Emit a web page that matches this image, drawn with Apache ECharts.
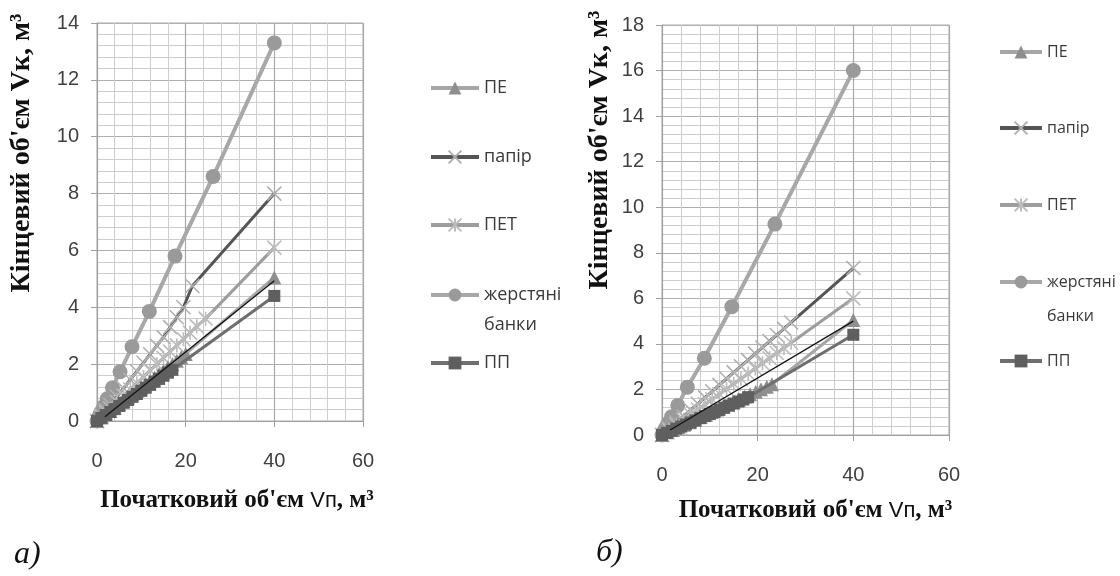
<!DOCTYPE html>
<html><head><meta charset="utf-8">
<script src="https://cdn.jsdelivr.net/npm/echarts@6/dist/echarts.min.js"></script>
<style>html,body{margin:0;padding:0;background:#fff}#c{width:1120px;height:576px}</style>
</head><body><div id="c"></div>
<script>
// ---- series names ----
const names = ['ПЕ', 'папір', 'ПЕТ', 'жерстяні банки', 'ПП'];
const xTicksA = [0, 20, 40, 60];
const yTicksA = [0, 2, 4, 6, 8, 10, 12, 14];
const xTicksB = [0, 20, 40, 60];
const yTicksB = [0, 2, 4, 6, 8, 10, 12, 14, 16, 18];

// ---- chart а) ----
const peAx = [0, 1, 2, 3, 4, 5, 6, 7, 8, 9, 10, 11, 12, 13, 14, 15, 16, 17, 18, 19, 20, 40];
const peAy = [0, 0.12, 0.24, 0.35, 0.47, 0.59, 0.71, 0.83, 0.94, 1.06, 1.18, 1.3, 1.42, 1.53, 1.65, 1.77, 1.89, 2.0, 2.12, 2.24, 2.36, 5.05];
const paperAx = [0, 1, 2, 3, 4.5, 6, 7.5, 9, 10.5, 12, 13.5, 15, 16.5, 18, 19.5, 21.5, 40];
const paperAy = [0, 0.19, 0.38, 0.57, 0.86, 1.15, 1.45, 1.75, 2.05, 2.35, 2.65, 2.95, 3.3, 3.65, 4.0, 4.75, 8.0];
const petAx = [0, 1, 2, 3, 4.5, 6, 7.5, 9, 10.5, 12, 13.5, 15, 16.5, 18, 19.5, 21, 22.5, 24.5, 40];
const petAy = [0, 0.15, 0.3, 0.44, 0.67, 0.89, 1.11, 1.33, 1.55, 1.78, 2.0, 2.22, 2.44, 2.66, 2.88, 3.1, 3.33, 3.6, 6.1];
const cansAx = [0, 0.45, 0.7, 1.05, 1.55, 2.3, 3.5, 5.2, 7.9, 11.8, 17.6, 26.2, 40];
const cansAy = [0, 0.15, 0.24, 0.35, 0.52, 0.78, 1.17, 1.73, 2.61, 3.85, 5.8, 8.6, 13.3];
const ppAx = [0, 1, 2, 3, 4, 5, 6, 7, 8, 9, 10, 11, 12, 13, 14, 15, 16, 17, 40];
const ppAy = [0, 0.11, 0.21, 0.32, 0.42, 0.53, 0.64, 0.74, 0.85, 0.95, 1.06, 1.17, 1.27, 1.38, 1.48, 1.59, 1.7, 1.8, 4.4];
const trendAx = [1.8, 40];
const trendAy = [0.15, 4.93];

// ---- chart б) ----
const peBx = [0, 1.2, 2.3, 3.5, 4.6, 5.8, 6.9, 8.1, 9.2, 10.4, 11.5, 12.7, 13.8, 15, 16.1, 17.3, 18.4, 19.6, 20.7, 21.9, 23, 40];
const peBy = [0, 0.12, 0.22, 0.34, 0.45, 0.56, 0.67, 0.79, 0.89, 1.01, 1.12, 1.23, 1.34, 1.46, 1.56, 1.68, 1.79, 1.9, 2.01, 2.12, 2.23, 5.05];
const paperBx = [0, 1.5, 3, 4.5, 6, 7.5, 9, 10.5, 12, 13.5, 15, 16.5, 18, 19.5, 21, 22.5, 24, 25.5, 27, 40];
const paperBy = [0, 0.27, 0.55, 0.82, 1.1, 1.37, 1.65, 1.92, 2.2, 2.47, 2.75, 3.02, 3.29, 3.57, 3.84, 4.12, 4.39, 4.67, 4.94, 7.33];
const petBx = [0, 1.5, 3, 4.5, 6, 7.5, 9, 10.5, 12, 13.5, 15, 16.5, 18, 19.5, 21, 22.5, 24, 25.5, 27, 40];
const petBy = [0, 0.22, 0.45, 0.67, 0.9, 1.12, 1.35, 1.57, 1.8, 2.02, 2.25, 2.47, 2.7, 2.92, 3.15, 3.37, 3.6, 3.82, 4.05, 6.0];
const cansBx = [0, 0.45, 0.75, 1.25, 2.0, 3.3, 5.3, 8.85, 14.6, 23.6, 40];
const cansBy = [0, 0.18, 0.3, 0.5, 0.8, 1.3, 2.1, 3.37, 5.63, 9.26, 16.0];
const ppBx = [0, 1, 2, 3, 4, 5, 6, 7, 8, 9, 10, 11, 12, 13, 14, 15, 16, 17, 18, 40];
const ppBy = [0, 0.09, 0.18, 0.28, 0.37, 0.46, 0.55, 0.64, 0.74, 0.83, 0.92, 1.01, 1.1, 1.2, 1.29, 1.38, 1.47, 1.56, 1.66, 4.4];
const trendBx = [1.7, 40];
const trendBy = [0.22, 5.0];

const zip = (xs, ys) => xs.map((x, i) => [x, ys[i]]);
const X_PATH = 'path://M0,0L10,10M10,0L0,10';
const STAR_PATH = 'path://M5,0L5,10M0,0L10,10M10,0L0,10';

const styles = {
  'ПЕ': {symbol: 'triangle', symbolSize: 14, line: '#a6a6a6', w: 3, fill: '#8e8e8e', border: '#8e8e8e', bw: 0, z: 4},
  'папір': {symbol: X_PATH, symbolSize: 14, line: '#555555', w: 3, fill: 'rgba(0,0,0,0)', border: '#b0b0b0', bw: 1.6, z: 2},
  'ПЕТ': {symbol: STAR_PATH, symbolSize: 14, line: '#9d9d9d', w: 3, fill: 'rgba(0,0,0,0)', border: '#bcbcbc', bw: 1.6, z: 3},
  'жерстяні банки': {symbol: 'circle', symbolSize: 15, line: '#a8a8a8', w: 4, fill: '#9a9a9a', border: '#9a9a9a', bw: 0, z: 1},
  'ПП': {symbol: 'rect', symbolSize: 12, line: '#6e6e6e', w: 3, fill: '#5f5f5f', border: '#5f5f5f', bw: 0, z: 5}
};

function mk(name, xs, ys, idx) {
  const s = styles[name];
  return {
    type: 'line', name, xAxisIndex: idx, yAxisIndex: idx, data: zip(xs, ys),
    symbol: s.symbol, symbolSize: s.symbolSize, showAllSymbol: true, z: s.z,
    lineStyle: {color: s.line, width: s.w},
    itemStyle: {color: s.fill, borderColor: s.border, borderWidth: s.bw},
    emphasis: {disabled: true}, animation: false
  };
}
function trend(xs, ys, idx) {
  return {type: 'line', name: 'тренд', xAxisIndex: idx, yAxisIndex: idx, data: zip(xs, ys),
    symbol: 'none', z: 6, lineStyle: {color: '#111', width: 1.3}, animation: false, emphasis: {disabled: true}};
}

const axisLbl = {color: '#404040', fontSize: 20, fontFamily: 'Liberation Sans, Arial, sans-serif'};
function xAx(idx, max, gap, padL) {
  return {
    type: 'value', gridIndex: idx, min: 0, max: max, interval: 20,
    axisLine: {show: true, lineStyle: {color: '#a0a0a0', width: 1}},
    axisTick: {show: true, length: 6, lineStyle: {color: '#a0a0a0'}},
    axisLabel: Object.assign({margin: 30}, axisLbl),
    splitLine: {show: true, lineStyle: {color: '#a8a8a8', width: 1.2}},
    minorTick: {show: false, splitNumber: 5},
    minorSplitLine: {show: true, lineStyle: {color: '#cdcdcd', width: 1}},
    name: "Початковий об'єм {s|Vп}, м³", nameLocation: 'middle', nameGap: gap,
    nameTextStyle: {fontFamily: 'Liberation Serif, Times New Roman, serif', fontWeight: 'bold', fontSize: 25, color: '#111',
      padding: [0, 0, 0, padL],
      rich: {s: {fontFamily: 'Liberation Sans, Arial, sans-serif', fontWeight: 'normal', fontSize: 22, color: '#111'}}}
  };
}
function yAx(idx, max) {
  return {
    type: 'value', gridIndex: idx, min: 0, max: max, interval: 2,
    axisLine: {show: true, lineStyle: {color: '#a0a0a0', width: 1}},
    axisTick: {show: true, length: 6, lineStyle: {color: '#a0a0a0'}},
    axisLabel: Object.assign({margin: 18}, axisLbl),
    splitLine: {show: true, lineStyle: {color: '#b0b0b0', width: 1.2}},
    minorTick: {show: false, splitNumber: 5},
    minorSplitLine: {show: true, lineStyle: {color: '#cdcdcd', width: 1}}
  };
}

function leg(name, left, center, w, fs, cansLh) {
  const isCans = name === 'жерстяні банки';
  const s = styles[name];
  const lh = isCans ? cansLh : 20;
  const h = isCans ? lh * 3 : lh;
  return {
    data: [name], left: left, top: center - h / 2, orient: 'vertical', itemWidth: w, itemHeight: 16,
    selectedMode: false,
    lineStyle: {width: 4, color: s.line},
    formatter: isCans ? '\nжерстяні\nбанки' : '{name}',
    textStyle: {fontFamily: 'Open Sans, Liberation Sans, sans-serif', fontSize: fs, color: '#3a3a3a', lineHeight: lh}
  };
}
const legTopsA = [83, 152, 220, 290, 358];
const legTopsB = [47, 123, 200, 277, 356];

const yTitle = "Кінцевий об'єм Vк, м³";
const option = {
  backgroundColor: '#ffffff',
  animation: false,
  grid: [
    {left: 97, top: 23, width: 266, height: 398, show: true, borderColor: '#ababab', borderWidth: 1},
    {left: 662, top: 25, width: 287, height: 410, show: true, borderColor: '#ababab', borderWidth: 1}
  ],
  xAxis: [xAx(0, 60, 67, 14), xAx(1, 60, 63, 20)],
  yAxis: [yAx(0, 14), yAx(1, 18)],
  legend: names.map((n, i) => leg(n, 424, legTopsA[i], 48, 18, 30))
    .concat(names.map((n, i) => leg(n, 993, legTopsB[i], 42, 16, 34))),
  graphic: [
    {type: 'text', x: 22, y: 153, rotation: Math.PI / 2, style: {text: yTitle, fill: '#111',
      font: 'bold 28px "Liberation Serif", "Times New Roman", serif', align: 'center', verticalAlign: 'middle'}},
    {type: 'text', x: 600, y: 150, rotation: Math.PI / 2, style: {text: yTitle, fill: '#111',
      font: 'bold 28px "Liberation Serif", "Times New Roman", serif', align: 'center', verticalAlign: 'middle'}},
    {type: 'text', x: 14, y: 555, style: {text: 'а)', fill: '#111',
      font: 'italic 32px "Liberation Serif", "Times New Roman", serif', align: 'left', verticalAlign: 'middle'}},
    {type: 'text', x: 596, y: 553, style: {text: 'б)', fill: '#111',
      font: 'italic 32px "Liberation Serif", "Times New Roman", serif', align: 'left', verticalAlign: 'middle'}}
  ],
  series: [
    mk('жерстяні банки', cansAx, cansAy, 0),
    mk('папір', paperAx, paperAy, 0),
    mk('ПЕТ', petAx, petAy, 0),
    mk('ПЕ', peAx, peAy, 0),
    mk('ПП', ppAx, ppAy, 0),
    trend(trendAx, trendAy, 0),
    mk('жерстяні банки', cansBx, cansBy, 1),
    mk('папір', paperBx, paperBy, 1),
    mk('ПЕТ', petBx, petBy, 1),
    mk('ПЕ', peBx, peBy, 1),
    mk('ПП', ppBx, ppBy, 1),
    trend(trendBx, trendBy, 1)
  ]
};
const chart = echarts.init(document.getElementById('c'), null, {renderer: 'canvas'});
chart.setOption(option);
</script></body></html>
